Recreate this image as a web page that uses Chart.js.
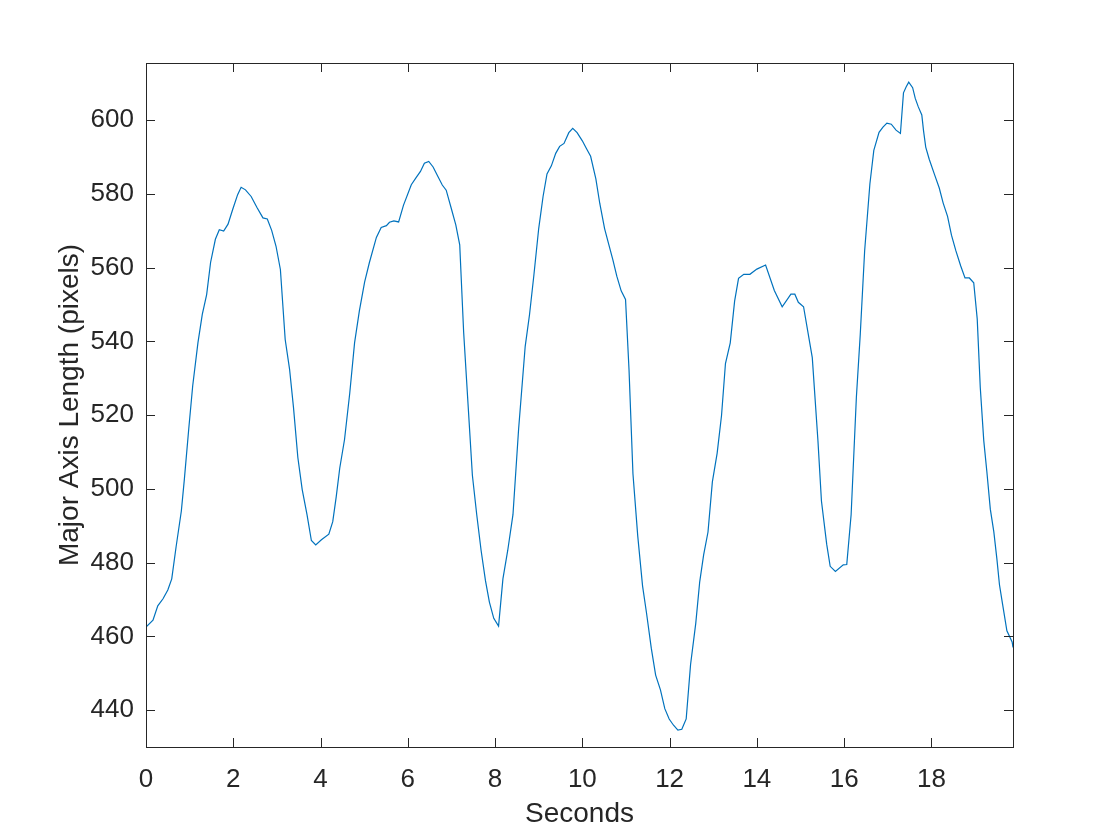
<!DOCTYPE html>
<html>
<head>
<meta charset="utf-8">
<title>Major Axis Length</title>
<script src="https://cdn.jsdelivr.net/npm/chart.js@4.4.1/dist/chart.umd.min.js"></script>
<style>
  html, body { margin: 0; padding: 0; background: #fff; }
  canvas { display: block; }
</style>
</head>
<body>
<canvas id="lengthChart" width="1120" height="840"></canvas>
<script>
// values
const seconds = [
  0.00, 0.16, 0.27, 0.39, 0.50, 0.59, 0.69, 0.81, 0.88, 0.98,
  1.07, 1.19, 1.29, 1.39, 1.48, 1.59, 1.68, 1.78, 1.88, 1.99,
  2.10, 2.18, 2.28, 2.41, 2.54, 2.68, 2.78, 2.88, 2.98, 3.08,
  3.19, 3.29, 3.38, 3.48, 3.58, 3.69, 3.79, 3.89, 4.02, 4.19,
  4.28, 4.36, 4.44, 4.55, 4.67, 4.78, 4.89, 5.01, 5.12, 5.28,
  5.39, 5.51, 5.58, 5.68, 5.79, 5.90, 6.08, 6.19, 6.29, 6.38,
  6.48, 6.58, 6.69, 6.79, 6.88, 7.00, 7.10, 7.19, 7.28, 7.38,
  7.48, 7.58, 7.68, 7.78, 7.87, 7.97, 8.08, 8.18, 8.29, 8.41,
  8.54, 8.69, 8.79, 8.89, 9.00, 9.10, 9.19, 9.29, 9.39, 9.48,
  9.58, 9.69, 9.78, 9.88, 10.00, 10.09, 10.19, 10.31, 10.40, 10.51,
  10.61, 10.70, 10.79, 10.89, 10.99, 11.07, 11.16, 11.27, 11.38, 11.47,
  11.58, 11.68, 11.79, 11.89, 11.99, 12.09, 12.19, 12.28, 12.38, 12.48,
  12.60, 12.69, 12.78, 12.88, 12.98, 13.09, 13.19, 13.28, 13.39, 13.49,
  13.58, 13.70, 13.84, 14.00, 14.20, 14.40, 14.58, 14.78, 14.87, 14.95,
  15.07, 15.27, 15.40, 15.48, 15.60, 15.68, 15.80, 15.98, 16.06, 16.16,
  16.28, 16.37, 16.47, 16.59, 16.68, 16.80, 16.89, 16.98, 17.08, 17.19,
  17.29, 17.36, 17.42, 17.48, 17.57, 17.63, 17.70, 17.78, 17.82, 17.87,
  17.95, 18.07, 18.18, 18.27, 18.37, 18.46, 18.56, 18.67, 18.77, 18.87,
  18.97, 19.05, 19.12, 19.20, 19.27, 19.35, 19.43, 19.50, 19.56, 19.63,
  19.73, 19.85, 19.87
];
const majorAxisLength = [
  462.5, 464.4, 468.3, 470.2, 472.6, 475.6, 484.3, 494.0, 502.7, 516.3,
  527.9, 539.6, 547.3, 552.7, 561.4, 567.7, 570.3, 569.9, 571.8, 575.9,
  579.8, 581.8, 581.1, 579.3, 576.4, 573.5, 573.2, 570.1, 565.8, 559.5,
  540.5, 532.5, 522.1, 508.5, 499.8, 493.0, 486.0, 484.8, 486.2, 487.7,
  491.1, 497.9, 505.6, 513.4, 526.0, 539.6, 548.3, 556.1, 561.4, 568.2,
  570.9, 571.4, 572.3, 572.7, 572.4, 576.9, 582.5, 584.4, 586.1, 588.3,
  588.8, 587.3, 584.7, 582.4, 581.0, 575.9, 571.6, 566.2, 542.5, 523.1,
  503.7, 493.0, 483.3, 475.1, 469.3, 464.9, 462.8, 475.6, 483.3, 493.0,
  516.3, 538.6, 547.3, 558.0, 570.6, 579.3, 585.4, 587.6, 591.0, 592.9,
  593.7, 596.6, 597.8, 596.6, 594.4, 592.4, 590.2, 584.1, 577.4, 570.6,
  566.1, 562.1, 557.7, 553.7, 551.4, 532.3, 504.1, 487.2, 473.7, 466.4,
  456.8, 449.5, 445.5, 440.4, 437.6, 435.9, 434.6, 434.8, 437.6, 452.3,
  463.6, 474.8, 482.1, 488.3, 501.9, 509.7, 519.9, 534.0, 539.6, 550.9,
  557.1, 558.2, 558.2, 559.6, 560.7, 553.8, 549.4, 552.8, 552.8, 550.6,
  549.4, 535.6, 513.0, 496.7, 485.0, 479.0, 477.6, 479.4, 479.5, 493.0,
  524.7, 542.0, 564.6, 582.7, 591.8, 596.7, 598.1, 599.2, 598.9, 597.3,
  596.4, 607.4, 609.0, 610.3, 608.8, 605.9, 603.6, 601.4, 597.1, 592.7,
  589.4, 585.3, 581.6, 577.5, 573.9, 568.8, 564.6, 560.5, 557.2, 557.2,
  555.9, 546.1, 527.5, 513.1, 504.8, 494.5, 488.4, 481.1, 474.0, 468.8,
  461.5, 458.5, 457.0
];
const xTickValues = [0, 2, 4, 6, 8, 10, 12, 14, 16, 18];
const yTickValues = [440, 460, 480, 500, 520, 540, 560, 580, 600];

const points = seconds.map((t, i) => ({ x: t, y: majorAxisLength[i] }));

const axisColor = '#262626';
const fontFamily = "'Liberation Sans', Arial, Helvetica, sans-serif";

// box round the plot with inward ticks on all four sides
const boxPlugin = {
  id: 'boxPlugin',
  afterDraw(chart) {
    const { ctx, chartArea: a, scales: { x, y } } = chart;
    const len = 9;
    ctx.save();
    ctx.strokeStyle = axisColor;
    ctx.lineWidth = 1;
    ctx.strokeRect(a.left + 0.5, a.top + 0.5, a.right - a.left, a.bottom - a.top);
    ctx.beginPath();
    xTickValues.forEach(v => {
      const px = Math.round(x.getPixelForValue(v)) + 0.5;
      ctx.moveTo(px, a.bottom); ctx.lineTo(px, a.bottom - len);
      ctx.moveTo(px, a.top); ctx.lineTo(px, a.top + len);
    });
    yTickValues.forEach(v => {
      const py = Math.round(y.getPixelForValue(v)) + 0.5;
      ctx.moveTo(a.left, py); ctx.lineTo(a.left + len, py);
      ctx.moveTo(a.right, py); ctx.lineTo(a.right - len, py);
    });
    ctx.stroke();
    ctx.restore();
  }
};

new Chart(document.getElementById('lengthChart'), {
  type: 'line',
  data: {
    datasets: [{
      data: points,
      borderColor: '#0072BD',
      borderWidth: 1.2,
      pointRadius: 0,
      tension: 0,
      fill: false
    }]
  },
  options: {
    responsive: false,
    animation: false,
    devicePixelRatio: 1,
    layout: { padding: { top: 63, right: 107, bottom: 0, left: 0 } },
    plugins: {
      legend: { display: false },
      tooltip: { enabled: false }
    },
    scales: {
      x: {
        type: 'linear',
        min: 0,
        max: 19.87,
        afterFit: s => { s.height = 93; },
        afterBuildTicks: s => { s.ticks = xTickValues.map(v => ({ value: v })); },
        grid: { display: false, drawTicks: false },
        border: { display: false },
        ticks: {
          color: axisColor,
          padding: 17,
          maxRotation: 0,
          font: { family: fontFamily, size: 26 }
        },
        title: {
          display: true,
          text: 'Seconds',
          color: axisColor,
          padding: { top: 0, bottom: 9 },
          font: { family: fontFamily, size: 28 }
        }
      },
      y: {
        type: 'linear',
        min: 430,
        max: 615.5,
        afterFit: s => { s.width = 146; },
        afterBuildTicks: s => { s.ticks = yTickValues.map(v => ({ value: v })); },
        grid: { display: false, drawTicks: false },
        border: { display: false },
        ticks: {
          color: axisColor,
          padding: 12,
          font: { family: fontFamily, size: 26 }
        },
        title: {
          display: true,
          text: 'Major Axis Length (pixels)',
          color: axisColor,
          padding: { top: 53, bottom: 0 },
          font: { family: fontFamily, size: 28 }
        }
      }
    }
  },
  plugins: [boxPlugin]
});
</script>
</body>
</html>
